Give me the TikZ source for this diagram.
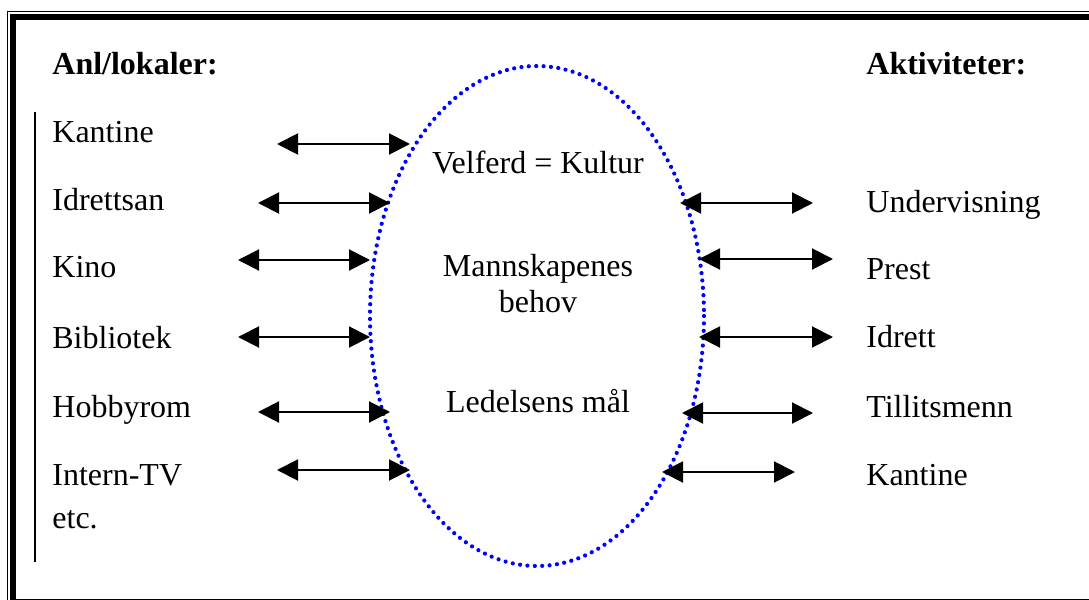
\documentclass[tikz,border=0pt]{standalone}
\usepackage{fontspec}
\setmainfont{Liberation Serif}
\usetikzlibrary{arrows.meta}
\begin{document}
\begin{tikzpicture}[x=0.5pt,y=-0.5pt,
  txt/.style={anchor=base west,inner sep=0pt,font=\fontsize{16}{19}\selectfont},
  mid/.style={anchor=base,inner sep=0pt,font=\fontsize{16}{19}\selectfont},
  link/.style={{Triangle[length=10.5pt,width=10.5pt]}-{Triangle[length=10.5pt,width=10.5pt]},line width=1pt}]
\useasboundingbox (0,0) rectangle (1089,600);

% Frame
\draw[line width=0.75pt] (1100,11.5) -- (7.5,11.5) -- (7.5,610);
\draw[line width=3pt] (1100,17) -- (13,17) -- (13,602) -- (1100,602);
\draw[line width=1pt] (35,112) -- (35,562);

% Ellipse
\draw[blue,line width=2.1pt,line cap=round,dash pattern=on 0pt off 3.7pt]
  (537,316) ellipse [x radius=167,y radius=250];

% Headings
\node[txt,font=\fontsize{16}{19}\selectfont\bfseries] (anl) at (52,74) {Anl/lokaler:};
\node[txt,font=\fontsize{16}{19}\selectfont\bfseries] (akt) at (866,74) {Aktiviteter:};

% Left column
\foreach \t/\yy [count=\i] in {Kantine/142,Idrettsan/210,Kino/277,Bibliotek/348,Hobbyrom/417,Intern-TV/485} {
  \node[txt] (lok\i) at (52,\yy) {\t};
}
\node[txt] (etc) at (52,528) {etc.};

% Right column
\foreach \t/\yy [count=\i] in {Undervisning/212,Prest/279,Idrett/347,Tillitsmenn/417,Kantine/485} {
  \node[txt] (akt\i) at (866,\yy) {\t};
}

% Middle
\node[mid] (velferd) at (538,173) {Velferd = Kultur};
\node[mid] (mann) at (538,276) {Mannskapenes};
\node[mid] (behov) at (538,312) {behov};
\node[mid] (maal) at (538,412) {Ledelsens mål};

% Arrows
\foreach \a/\b/\yy [count=\i] in {277/410/144,258/390/203,238/370/260,238/370/337,258/390/412,277/410/470} {
  \coordinate (la\i) at (\a,\yy);
  \coordinate (lb\i) at (\b,\yy);
  \draw[link] (la\i) -- (lb\i);
}
\foreach \a/\b/\yy [count=\i] in {680/813/203,699/833/259,699/833/337,682/813/413,662/795/472} {
  \coordinate (ra\i) at (\a,\yy);
  \coordinate (rb\i) at (\b,\yy);
  \draw[link] (ra\i) -- (rb\i);
}
\end{tikzpicture}
\end{document}
